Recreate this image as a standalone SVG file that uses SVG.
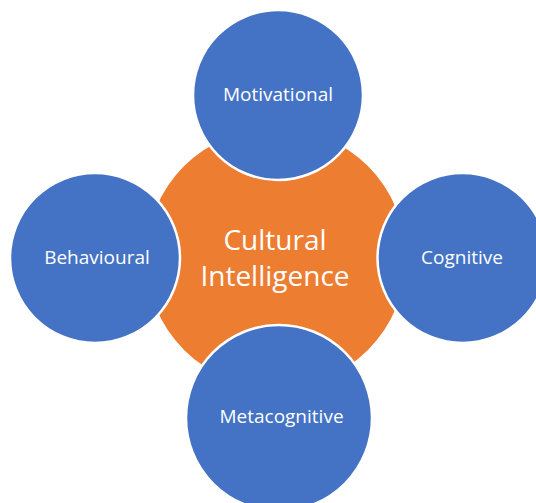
<svg xmlns="http://www.w3.org/2000/svg" width="536" height="503" viewBox="0 0 536 503">
<style>
.bg{fill:#ffffff}
.hub{fill:#ED7D31}
.sat{fill:#4472C4;stroke:#ffffff;stroke-width:2.5}
.lbl{font-family:"Open Sans","Liberation Sans",sans-serif;fill:#ffffff;text-anchor:middle}
.s{font-size:19px}
.b{font-size:28px}
</style>
<rect class="bg" x="0" y="0" width="536" height="503"/>
<g id="connectors"></g>
<g id="node-cultural-intelligence">
<circle class="hub" cx="276" cy="258" r="130"/>
<text class="lbl b" x="275" y="250">Cultural</text>
<text class="lbl b" x="275" y="286">Intelligence</text>
</g>
<g id="node-motivational">
<circle class="sat" cx="278" cy="95" r="85"/>
<text class="lbl s" x="278" y="101">Motivational</text>
</g>
<g id="node-behavioural">
<circle class="sat" cx="95" cy="258" r="85"/>
<text class="lbl s" x="97" y="264">Behavioural</text>
</g>
<g id="node-cognitive">
<circle class="sat" cx="462.5" cy="258" r="85"/>
<text class="lbl s" x="462" y="264">Cognitive</text>
</g>
<g id="node-metacognitive">
<circle class="sat" cx="279" cy="418" r="93"/>
<text class="lbl s" x="281.5" y="423">Metacognitive</text>
</g>
</svg>
